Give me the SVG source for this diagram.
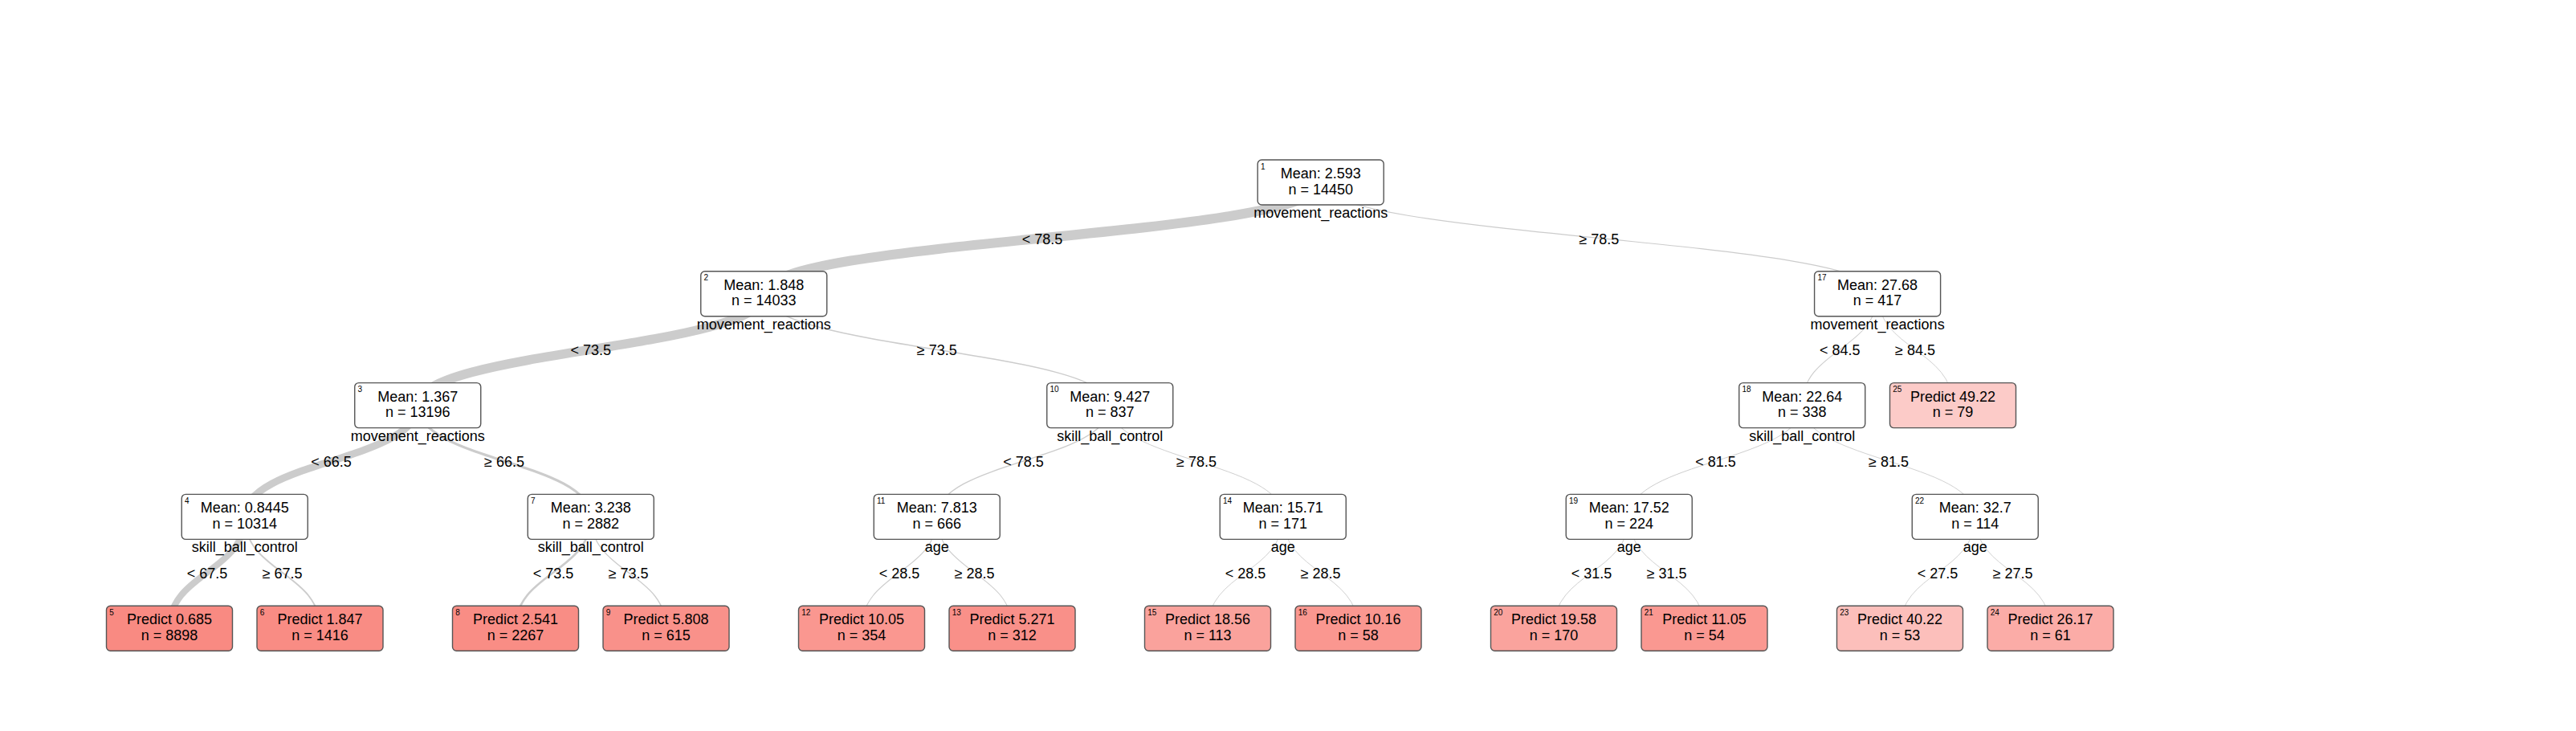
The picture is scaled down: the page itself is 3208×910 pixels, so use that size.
<svg xmlns="http://www.w3.org/2000/svg" width="3208" height="910" viewBox="0 0 3208 910">
<style>
text{font-family:'Liberation Sans',Arial,Helvetica,sans-serif;fill:#000}
.t{font-size:18px;text-anchor:middle}
.id{font-size:10px;text-anchor:start}
.box{fill:#fff;stroke:#555;stroke-width:1.4}
.leaf{stroke:#555;stroke-width:1.4}
.e{fill:none;stroke:#cccccc;stroke-linecap:butt}
.lbl{font-size:18px;text-anchor:middle}
</style>
<rect width="3208" height="910" fill="#fff"/>
<g id="connectors">
<path class="e" stroke-width="12.16" d="M1644.7,227 C1644.7,296.4 951.25,296.4 951.25,365.8"/>
<path class="e" stroke-width="1.14" d="M1644.7,227 C1644.7,296.4 2338.1,296.4 2338.1,365.8"/>
<path class="e" stroke-width="11.48" d="M951.25,365.8 C951.25,435.2 520.25,435.2 520.25,504.6"/>
<path class="e" stroke-width="1.48" d="M951.25,365.8 C951.25,435.2 1382.25,435.2 1382.25,504.6"/>
<path class="e" stroke-width="1.07" d="M2338.1,365.8 C2338.1,435.2 2244.25,435.2 2244.25,504.6"/>
<path class="e" stroke-width="0.9" d="M2338.1,365.8 C2338.1,435.2 2432,435.2 2432,504.6"/>
<path class="e" stroke-width="9.15" d="M520.25,504.6 C520.25,574 304.75,574 304.75,643.4"/>
<path class="e" stroke-width="3.13" d="M520.25,504.6 C520.25,574 735.75,574 735.75,643.4"/>
<path class="e" stroke-width="1.34" d="M1382.25,504.6 C1382.25,574 1166.75,574 1166.75,643.4"/>
<path class="e" stroke-width="0.94" d="M1382.25,504.6 C1382.25,574 1597.75,574 1597.75,643.4"/>
<path class="e" stroke-width="0.98" d="M2244.25,504.6 C2244.25,574 2028.75,574 2028.75,643.4"/>
<path class="e" stroke-width="0.9" d="M2244.25,504.6 C2244.25,574 2459.75,574 2459.75,643.4"/>
<path class="e" stroke-width="8.0" d="M304.75,643.4 C304.75,712.8 211,712.8 211,782.2"/>
<path class="e" stroke-width="1.95" d="M304.75,643.4 C304.75,712.8 398.5,712.8 398.5,782.2"/>
<path class="e" stroke-width="2.64" d="M735.75,643.4 C735.75,712.8 642,712.8 642,782.2"/>
<path class="e" stroke-width="1.3" d="M735.75,643.4 C735.75,712.8 829.5,712.8 829.5,782.2"/>
<path class="e" stroke-width="1.09" d="M1166.75,643.4 C1166.75,712.8 1073,712.8 1073,782.2"/>
<path class="e" stroke-width="1.05" d="M1166.75,643.4 C1166.75,712.8 1260.5,712.8 1260.5,782.2"/>
<path class="e" stroke-width="0.9" d="M1597.75,643.4 C1597.75,712.8 1504,712.8 1504,782.2"/>
<path class="e" stroke-width="0.9" d="M1597.75,643.4 C1597.75,712.8 1691.5,712.8 1691.5,782.2"/>
<path class="e" stroke-width="0.94" d="M2028.75,643.4 C2028.75,712.8 1935,712.8 1935,782.2"/>
<path class="e" stroke-width="0.9" d="M2028.75,643.4 C2028.75,712.8 2122.5,712.8 2122.5,782.2"/>
<path class="e" stroke-width="0.9" d="M2459.75,643.4 C2459.75,712.8 2366,712.8 2366,782.2"/>
<path class="e" stroke-width="0.9" d="M2459.75,643.4 C2459.75,712.8 2553.5,712.8 2553.5,782.2"/>
<text class="lbl" x="1298" y="303.5">&lt; 78.5</text>
<text class="lbl" x="1991.4" y="303.5">≥ 78.5</text>
<text class="lbl" x="735.75" y="442.3">&lt; 73.5</text>
<text class="lbl" x="1166.75" y="442.3">≥ 73.5</text>
<text class="lbl" x="2291.2" y="442.3">&lt; 84.5</text>
<text class="lbl" x="2385" y="442.3">≥ 84.5</text>
<text class="lbl" x="412.5" y="581.1">&lt; 66.5</text>
<text class="lbl" x="628" y="581.1">≥ 66.5</text>
<text class="lbl" x="1274.5" y="581.1">&lt; 78.5</text>
<text class="lbl" x="1490" y="581.1">≥ 78.5</text>
<text class="lbl" x="2136.5" y="581.1">&lt; 81.5</text>
<text class="lbl" x="2352" y="581.1">≥ 81.5</text>
<text class="lbl" x="257.9" y="719.9">&lt; 67.5</text>
<text class="lbl" x="351.6" y="719.9">≥ 67.5</text>
<text class="lbl" x="688.9" y="719.9">&lt; 73.5</text>
<text class="lbl" x="782.6" y="719.9">≥ 73.5</text>
<text class="lbl" x="1119.9" y="719.9">&lt; 28.5</text>
<text class="lbl" x="1213.6" y="719.9">≥ 28.5</text>
<text class="lbl" x="1550.9" y="719.9">&lt; 28.5</text>
<text class="lbl" x="1644.6" y="719.9">≥ 28.5</text>
<text class="lbl" x="1981.9" y="719.9">&lt; 31.5</text>
<text class="lbl" x="2075.6" y="719.9">≥ 31.5</text>
<text class="lbl" x="2412.9" y="719.9">&lt; 27.5</text>
<text class="lbl" x="2506.6" y="719.9">≥ 27.5</text>
</g>
<g id="node1"><rect class="box" x="1566.2" y="199" width="157" height="56" rx="5"/><text class="id" x="1570" y="210.5">1</text><text class="t" x="1644.7" y="222">Mean: 2.593</text><text class="t" x="1644.7" y="241.5">n = 14450</text><text class="t" x="1644.7" y="271">movement_reactions</text></g>
<g id="node2"><rect class="box" x="872.75" y="337.8" width="157" height="56" rx="5"/><text class="id" x="876.5" y="349.3">2</text><text class="t" x="951.25" y="360.8">Mean: 1.848</text><text class="t" x="951.25" y="380.3">n = 14033</text><text class="t" x="951.25" y="409.8">movement_reactions</text></g>
<g id="node17"><rect class="box" x="2259.6" y="337.8" width="157" height="56" rx="5"/><text class="id" x="2263.4" y="349.3">17</text><text class="t" x="2338.1" y="360.8">Mean: 27.68</text><text class="t" x="2338.1" y="380.3">n = 417</text><text class="t" x="2338.1" y="409.8">movement_reactions</text></g>
<g id="node3"><rect class="box" x="441.75" y="476.6" width="157" height="56" rx="5"/><text class="id" x="445.5" y="488.1">3</text><text class="t" x="520.25" y="499.6">Mean: 1.367</text><text class="t" x="520.25" y="519.1">n = 13196</text><text class="t" x="520.25" y="548.6">movement_reactions</text></g>
<g id="node10"><rect class="box" x="1303.75" y="476.6" width="157" height="56" rx="5"/><text class="id" x="1307.5" y="488.1">10</text><text class="t" x="1382.25" y="499.6">Mean: 9.427</text><text class="t" x="1382.25" y="519.1">n = 837</text><text class="t" x="1382.25" y="548.6">skill_ball_control</text></g>
<g id="node18"><rect class="box" x="2165.75" y="476.6" width="157" height="56" rx="5"/><text class="id" x="2169.5" y="488.1">18</text><text class="t" x="2244.25" y="499.6">Mean: 22.64</text><text class="t" x="2244.25" y="519.1">n = 338</text><text class="t" x="2244.25" y="548.6">skill_ball_control</text></g>
<g id="node25"><rect class="leaf" fill="#FCCBC8" x="2353.5" y="476.6" width="157" height="56" rx="5"/><text class="id" x="2357.3" y="488.1">25</text><text class="t" x="2432" y="499.6">Predict 49.22</text><text class="t" x="2432" y="519.1">n = 79</text></g>
<g id="node4"><rect class="box" x="226.25" y="615.4" width="157" height="56" rx="5"/><text class="id" x="230" y="626.9">4</text><text class="t" x="304.75" y="638.4">Mean: 0.8445</text><text class="t" x="304.75" y="657.9">n = 10314</text><text class="t" x="304.75" y="687.4">skill_ball_control</text></g>
<g id="node7"><rect class="box" x="657.25" y="615.4" width="157" height="56" rx="5"/><text class="id" x="661" y="626.9">7</text><text class="t" x="735.75" y="638.4">Mean: 3.238</text><text class="t" x="735.75" y="657.9">n = 2882</text><text class="t" x="735.75" y="687.4">skill_ball_control</text></g>
<g id="node11"><rect class="box" x="1088.25" y="615.4" width="157" height="56" rx="5"/><text class="id" x="1092" y="626.9">11</text><text class="t" x="1166.75" y="638.4">Mean: 7.813</text><text class="t" x="1166.75" y="657.9">n = 666</text><text class="t" x="1166.75" y="687.4">age</text></g>
<g id="node14"><rect class="box" x="1519.25" y="615.4" width="157" height="56" rx="5"/><text class="id" x="1523" y="626.9">14</text><text class="t" x="1597.75" y="638.4">Mean: 15.71</text><text class="t" x="1597.75" y="657.9">n = 171</text><text class="t" x="1597.75" y="687.4">age</text></g>
<g id="node19"><rect class="box" x="1950.25" y="615.4" width="157" height="56" rx="5"/><text class="id" x="1954" y="626.9">19</text><text class="t" x="2028.75" y="638.4">Mean: 17.52</text><text class="t" x="2028.75" y="657.9">n = 224</text><text class="t" x="2028.75" y="687.4">age</text></g>
<g id="node22"><rect class="box" x="2381.25" y="615.4" width="157" height="56" rx="5"/><text class="id" x="2385" y="626.9">22</text><text class="t" x="2459.75" y="638.4">Mean: 32.7</text><text class="t" x="2459.75" y="657.9">n = 114</text><text class="t" x="2459.75" y="687.4">age</text></g>
<g id="node5"><rect class="leaf" fill="#F98A82" x="132.5" y="754.2" width="157" height="56" rx="5"/><text class="id" x="136.3" y="765.7">5</text><text class="t" x="211" y="777.2">Predict 0.685</text><text class="t" x="211" y="796.7">n = 8898</text></g>
<g id="node6"><rect class="leaf" fill="#F98C84" x="320" y="754.2" width="157" height="56" rx="5"/><text class="id" x="323.8" y="765.7">6</text><text class="t" x="398.5" y="777.2">Predict 1.847</text><text class="t" x="398.5" y="796.7">n = 1416</text></g>
<g id="node8"><rect class="leaf" fill="#F98D85" x="563.5" y="754.2" width="157" height="56" rx="5"/><text class="id" x="567.3" y="765.7">8</text><text class="t" x="642" y="777.2">Predict 2.541</text><text class="t" x="642" y="796.7">n = 2267</text></g>
<g id="node9"><rect class="leaf" fill="#F9918A" x="751" y="754.2" width="157" height="56" rx="5"/><text class="id" x="754.8" y="765.7">9</text><text class="t" x="829.5" y="777.2">Predict 5.808</text><text class="t" x="829.5" y="796.7">n = 615</text></g>
<g id="node12"><rect class="leaf" fill="#FA9790" x="994.5" y="754.2" width="157" height="56" rx="5"/><text class="id" x="998.3" y="765.7">12</text><text class="t" x="1073" y="777.2">Predict 10.05</text><text class="t" x="1073" y="796.7">n = 354</text></g>
<g id="node13"><rect class="leaf" fill="#F99089" x="1182" y="754.2" width="157" height="56" rx="5"/><text class="id" x="1185.8" y="765.7">13</text><text class="t" x="1260.5" y="777.2">Predict 5.271</text><text class="t" x="1260.5" y="796.7">n = 312</text></g>
<g id="node15"><rect class="leaf" fill="#FAA29C" x="1425.5" y="754.2" width="157" height="56" rx="5"/><text class="id" x="1429.3" y="765.7">15</text><text class="t" x="1504" y="777.2">Predict 18.56</text><text class="t" x="1504" y="796.7">n = 113</text></g>
<g id="node16"><rect class="leaf" fill="#FA9790" x="1613" y="754.2" width="157" height="56" rx="5"/><text class="id" x="1616.8" y="765.7">16</text><text class="t" x="1691.5" y="777.2">Predict 10.16</text><text class="t" x="1691.5" y="796.7">n = 58</text></g>
<g id="node20"><rect class="leaf" fill="#FAA39D" x="1856.5" y="754.2" width="157" height="56" rx="5"/><text class="id" x="1860.3" y="765.7">20</text><text class="t" x="1935" y="777.2">Predict 19.58</text><text class="t" x="1935" y="796.7">n = 170</text></g>
<g id="node21"><rect class="leaf" fill="#FA9891" x="2044" y="754.2" width="157" height="56" rx="5"/><text class="id" x="2047.8" y="765.7">21</text><text class="t" x="2122.5" y="777.2">Predict 11.05</text><text class="t" x="2122.5" y="796.7">n = 54</text></g>
<g id="node23"><rect class="leaf" fill="#FCBFBB" x="2287.5" y="754.2" width="157" height="56" rx="5"/><text class="id" x="2291.3" y="765.7">23</text><text class="t" x="2366" y="777.2">Predict 40.22</text><text class="t" x="2366" y="796.7">n = 53</text></g>
<g id="node24"><rect class="leaf" fill="#FBACA7" x="2475" y="754.2" width="157" height="56" rx="5"/><text class="id" x="2478.8" y="765.7">24</text><text class="t" x="2553.5" y="777.2">Predict 26.17</text><text class="t" x="2553.5" y="796.7">n = 61</text></g>
</svg>
